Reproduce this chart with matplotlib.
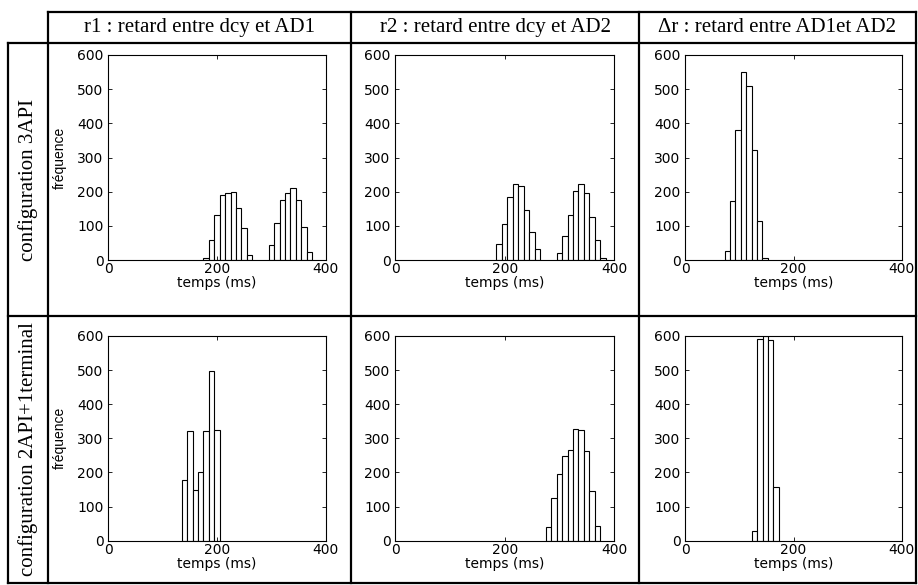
import matplotlib
matplotlib.use("Agg")
import matplotlib.pyplot as plt
from matplotlib.lines import Line2D

# ---- data (bin centres in ms, counts) ----
col_titles = ["r1 : retard entre dcy et AD1",
              "r2 : retard entre dcy et AD2",
              "\u0394r : retard entre AD1et AD2"]
row_titles = ["configuration 3API", "configuration 2API+1terminal"]

r1_3api_t = [180, 190, 200, 210, 220, 230, 240, 250, 260,
             300, 310, 320, 330, 340, 350, 360, 370]
r1_3api_n = [5, 58, 131, 189, 196, 199, 152, 95, 16,
             45, 108, 175, 197, 212, 177, 97, 23]

r2_3api_t = [190, 200, 210, 220, 230, 240, 250, 260,
             300, 310, 320, 330, 340, 350, 360, 370, 380]
r2_3api_n = [46, 104, 183, 223, 217, 147, 81, 31,
             20, 69, 133, 203, 223, 196, 126, 60, 7]

dr_3api_t = [77.5, 87.5, 97.5, 107.5, 117.5, 127.5, 137.5, 147.5]
dr_3api_n = [26, 173, 380, 549, 508, 322, 115, 5]

r1_2api_t = [140, 150, 160, 170, 180, 190, 200]
r1_2api_n = [179, 322, 149, 200, 322, 496, 324]

r2_2api_t = [280, 290, 300, 310, 320, 330, 340, 350, 360, 370]
r2_2api_n = [40, 125, 196, 248, 266, 327, 325, 264, 145, 44]

dr_2api_t = [128, 138, 148, 158, 168]
dr_2api_n = [27, 592, 600, 589, 157]

bin_width = 10
x_ticks = [0, 200, 400]
y_ticks = [0, 100, 200, 300, 400, 500, 600]

panels = [[(r1_3api_t, r1_3api_n), (r2_3api_t, r2_3api_n), (dr_3api_t, dr_3api_n)],
          [(r1_2api_t, r1_2api_n), (r2_2api_t, r2_2api_n), (dr_2api_t, dr_2api_n)]]

# ---- figure ----
W, H = 918, 585
fig = plt.figure(figsize=(W / 100, H / 100), dpi=100)

sans = ["DejaVu Sans"]
narrow = ["Liberation Sans Narrow", "Liberation Sans", "DejaVu Sans"]
serif = ["Liberation Serif", "DejaVu Serif"]

col_px = [(108.3, 325.7), (395.3, 614.0), (685.3, 901.7)]
row_px = [(55.0, 260.0), (336.0, 540.7)]

for r in range(2):
    for c in range(3):
        x0, x1 = col_px[c]
        y0, y1 = row_px[r]
        ax = fig.add_axes([x0 / W, 1 - y1 / H, (x1 - x0) / W, (y1 - y0) / H])
        t, n = panels[r][c]
        ax.bar(t, n, width=bin_width, color="white", edgecolor="black",
               linewidth=0.8, align="center")
        ax.set_xlim(0, 400)
        ax.set_ylim(0, 600)
        ax.set_xticks(x_ticks)
        ax.set_yticks(y_ticks)
        ax.tick_params(direction="in", length=3, width=0.6, top=True, right=True,
                       labelsize=10)
        ax.tick_params(axis="x", pad=1.5)
        ax.tick_params(axis="y", pad=3.5)
        for lab in ax.get_xticklabels() + ax.get_yticklabels():
            lab.set_family(sans)
        for s in ax.spines.values():
            s.set_linewidth(0.8)
        ax.set_xlabel("temps (ms)", family=sans, fontsize=10, labelpad=0)
        if c == 0:
            ax.set_ylabel("fr\u00e9quence", family=narrow, fontsize=10)
            ax.yaxis.set_label_coords(-0.19, 0.5)

# ---- table grid ----
def fline(xs, ys, lw=1.6):
    fig.add_artist(Line2D([x / W for x in xs], [1 - y / H for y in ys],
                          transform=fig.transFigure, color="black", linewidth=lw,
                          solid_capstyle="projecting"))

left_out, left_in = 8, 48
col_edges = [48, 351, 639, 916]
top, head_bot, mid, bot = 12, 43, 316, 583

fline([left_in, 916], [top, top])
fline([left_out, 916], [head_bot, head_bot])
fline([left_out, 916], [mid, mid])
fline([left_out, 916], [bot, bot])
fline([left_out, left_out], [head_bot, bot])
for xe in col_edges:
    fline([xe, xe], [top, bot])

for c, title in enumerate(col_titles):
    xc = (col_edges[c] + col_edges[c + 1]) / 2
    fig.text(xc / W, 1 - 27.5 / H, title, family=serif, fontsize=15,
             ha="center", va="center")

row_centres = [(head_bot + mid) / 2, (mid + bot) / 2]
for r, title in enumerate(row_titles):
    fig.text(28 / W, 1 - row_centres[r] / H, title, family=serif, fontsize=15,
             ha="center", va="center", rotation=90)

fig.savefig("out.png", dpi=100)
